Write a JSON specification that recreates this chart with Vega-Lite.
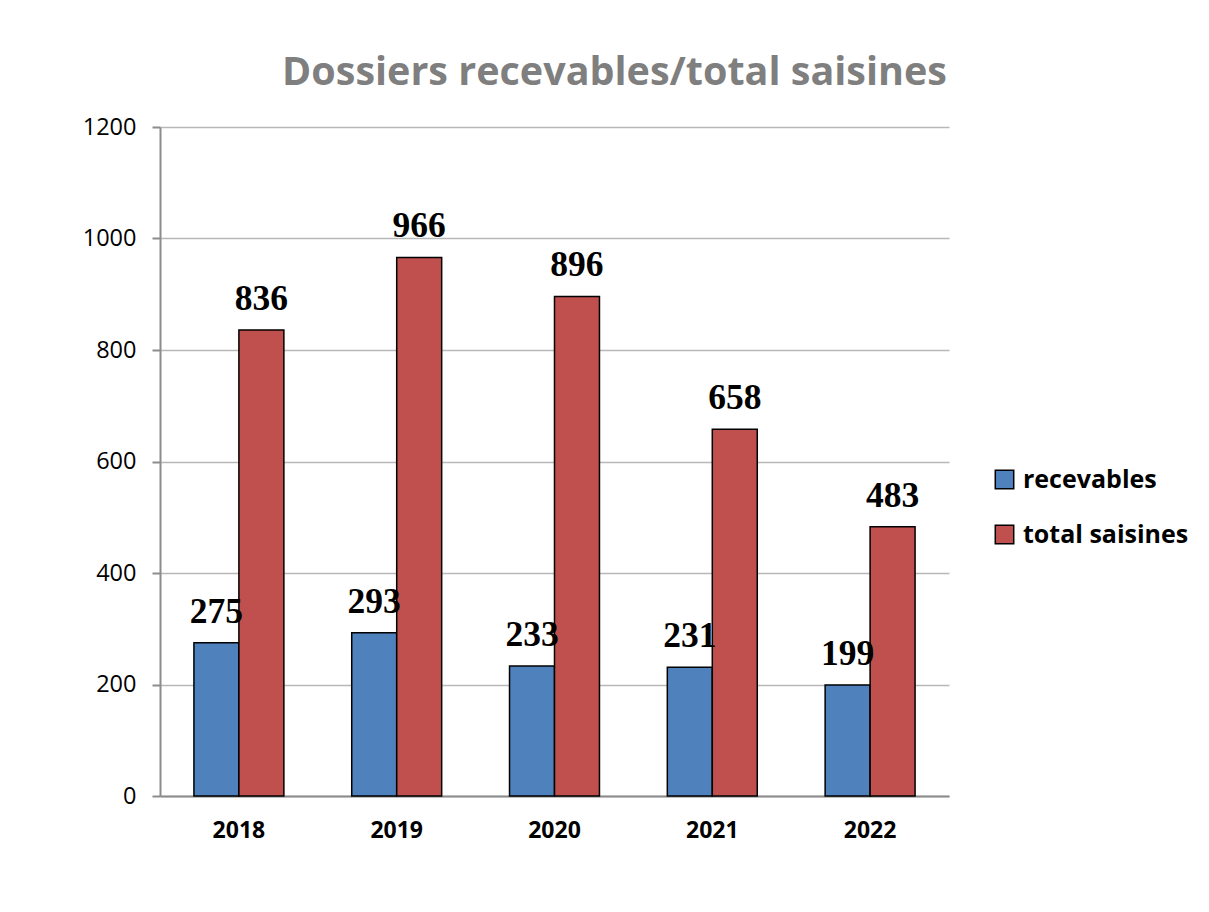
{
  "$schema": "https://vega.github.io/schema/vega-lite/v6.json",
  "autosize": {"type": "none"},
  "padding": {"left": 160, "top": 127, "right": 260, "bottom": 116},
  "width": 789,
  "height": 669,
  "background": "white",
  "title": {
    "text": "Dossiers recevables/total saisines",
    "anchor": "middle",
    "frame": "group",
    "dx": 60,
    "offset": 22,
    "font": "Open Sans",
    "fontSize": 39.5,
    "fontWeight": "bold",
    "color": "#7f7f7f"
  },
  "data": {
    "values": [
      {"annee": "2018", "serie": "recevables", "valeur": 275},
      {"annee": "2018", "serie": "total saisines", "valeur": 836},
      {"annee": "2019", "serie": "recevables", "valeur": 293},
      {"annee": "2019", "serie": "total saisines", "valeur": 966},
      {"annee": "2020", "serie": "recevables", "valeur": 233},
      {"annee": "2020", "serie": "total saisines", "valeur": 896},
      {"annee": "2021", "serie": "recevables", "valeur": 231},
      {"annee": "2021", "serie": "total saisines", "valeur": 658},
      {"annee": "2022", "serie": "recevables", "valeur": 199},
      {"annee": "2022", "serie": "total saisines", "valeur": 483}
    ]
  },
  "encoding": {
    "x": {
      "field": "annee",
      "type": "nominal",
      "scale": {"paddingInner": 0.43, "paddingOuter": 0.215},
      "axis": {
        "title": null,
        "labelAngle": 0,
        "labelFont": "Open Sans",
        "labelFontSize": 23,
        "labelFontWeight": "bold",
        "labelColor": "#000000",
        "labelPadding": 23,
        "ticks": false,
        "domainColor": "#8c8c8c",
        "domainWidth": 2
      }
    },
    "xOffset": {"field": "serie", "type": "nominal"},
    "y": {
      "field": "valeur",
      "type": "quantitative",
      "scale": {"domain": [0, 1200], "nice": false},
      "axis": {
        "title": null,
        "values": [0, 200, 400, 600, 800, 1000, 1200],
        "format": "d",
        "labelFont": "Open Sans",
        "labelFontSize": 23.5,
        "labelColor": "#000000",
        "labelPadding": 16,
        "tickSize": 8,
        "tickColor": "#8c8c8c",
        "tickWidth": 2,
        "domainColor": "#8c8c8c",
        "domainWidth": 2,
        "grid": true,
        "gridColor": "#b8b8b8",
        "gridWidth": 1.5
      }
    }
  },
  "layer": [
    {
      "mark": {"type": "bar", "stroke": "#000000", "strokeWidth": 1.5},
      "encoding": {
        "color": {
          "field": "serie",
          "type": "nominal",
          "scale": {"domain": ["recevables", "total saisines"], "range": ["#4f81bd", "#c0504d"]},
          "legend": {
            "title": null,
            "orient": "none",
            "legendX": 832,
            "legendY": 340,
            "symbolType": "square",
            "symbolSize": 340,
            "symbolStrokeColor": "#000000",
            "symbolStrokeWidth": 1.5,
            "labelFont": "Open Sans",
            "labelFontSize": 25,
            "labelFontWeight": "bold",
            "labelColor": "#000000",
            "labelOffset": 6,
            "labelLimit": 400,
            "rowPadding": 29
          }
        }
      }
    },
    {
      "mark": {
        "type": "text",
        "baseline": "alphabetic",
        "dy": -20,
        "font": "Liberation Serif",
        "fontSize": 35.5,
        "fontWeight": "bold",
        "color": "#000000"
      },
      "encoding": {"text": {"field": "valeur", "type": "quantitative"}}
    }
  ],
  "config": {"view": {"stroke": null}}
}
